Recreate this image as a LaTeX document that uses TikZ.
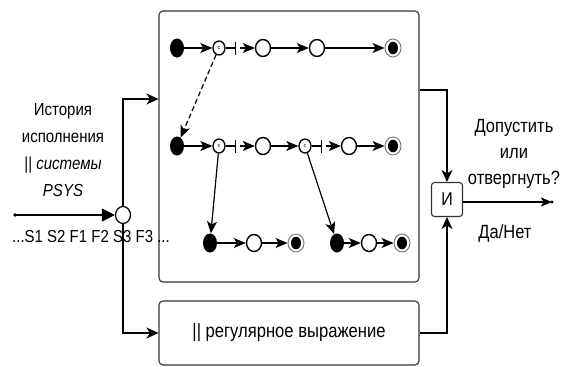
\documentclass[tikz,border=0pt]{standalone}
\usepackage{fontspec}
\usepackage{graphicx}
\setmainfont{Liberation Sans}
\usetikzlibrary{arrows.meta,shapes.geometric,calc}

% slightly tall lettering
\newcommand\tall[1]{\scalebox{1}[1.16]{#1}}

\tikzset{
  conn/.style={line width=1.2pt, draw=black},
  big/.style={-{Stealth[length=12pt,width=11pt,inset=3.5pt]}},
  small/.style={-{Stealth[length=12pt,width=10pt,inset=3pt]}},
  initst/.style={ellipse, fill=black, inner sep=0pt, minimum width=14pt, minimum height=19pt},
  openst/.style={ellipse, draw=black, fill=white, line width=1.4pt, inner sep=0pt, minimum width=15pt, minimum height=17pt},
  finalst/.style={ellipse, draw=black!55, fill=white, line width=0.9pt, inner sep=0pt, minimum width=16pt, minimum height=18pt,
    path picture={\fill[black] (path picture bounding box.center) ellipse (5pt and 6.3pt);}},
  choice/.style={ellipse, draw=black, fill=white, line width=1.3pt, inner sep=0pt, minimum width=12pt, minimum height=14pt,
    font=\fontsize{5.5}{5.5}\selectfont},
  barred/.style={line width=1.2pt, -{Bar[width=13pt,line width=1.5pt]}},
  panel/.style={draw=black!80, line width=1.1pt, rounded corners=4pt, fill=white},
  txt/.style={font=\fontsize{15}{27}\selectfont, align=center, inner sep=0pt},
  rtxt/.style={font=\fontsize{16.5}{26}\selectfont, align=center, inner sep=0pt}
}

\begin{document}
\begin{tikzpicture}[x=1pt,y=-1pt]
\useasboundingbox (0,0) rectangle (571,367);

% panels
\node (main) [panel, minimum width=260pt, minimum height=271pt] at (289,146.5) {};
\node (re) [panel, minimum width=260pt, minimum height=64pt, font=\fontsize{16.6}{18}\selectfont] at (289,333) {\tall{|| регулярное выражение}};
\node (and) [panel, minimum width=31pt, minimum height=34pt, rounded corners=3pt, font=\fontsize{16}{18}\selectfont] at (447,199.5) {\tall{И}};

% input stream
\coordinate (start) at (15,215);
\node (split) [ellipse, draw=black, fill=white, line width=1.2pt, inner sep=0pt, minimum width=15pt, minimum height=17pt] at (123,215) {};
\fill (start) circle (1.8pt);
\draw[conn, -{Triangle[length=13pt,width=13pt]}] (start) -- (split);

\coordinate (h1) at (0,99);
\coordinate (h2) at (0,90);
\draw[conn, big] (split.north) |- (main.west |- h1);
\draw[conn, big] (split.south) |- (re.west);
\draw[conn, big] (main.east |- h2) -| (and.north);
\draw[conn, big] (re.east) -| (and.south);

\coordinate (out) at (552,202);
\draw[conn, -{Stealth[length=11pt,width=9pt,inset=2.5pt]}] (and.east |- out) -- (out);
\fill (out) circle (1.6pt);

% labels
\node (hist) [txt] at (63,150) {\tall{История}\\\tall{исполнения}\\\tall{|| \textit{системы}}\\\tall{\textit{PSYS}}};
\node (trace) [txt] at (91,237) {\tall{...S1 S2 F1 F2 S3 F3 ...}};
\node (ask) [rtxt] at (514,154) {\tall{Допустить}\\\tall{или}\\\tall{отвергнуть?}};
\node (yn) [rtxt] at (505,233) {\tall{Да/Нет}};

% row 1
\node (i1) [initst] at (177,48) {};
\node (c1) [choice] at (219,48) {c};
\node (o1) [openst] at (263,48) {};
\node (o2) [openst] at (317,48) {};
\node (f1) [finalst] at (393,48) {};
\coordinate (b1) at (236,48);
\coordinate (s1) at (240,48);

% row 2
\node (i2) [initst] at (177,146) {};
\node (c2) [choice] at (219,146) {c};
\node (o3) [openst] at (263,146) {};
\node (c3) [choice] at (305,146) {c};
\node (o4) [openst] at (349,146) {};
\node (f2) [finalst] at (393,146) {};
\coordinate (b2) at (236,146);
\coordinate (s2) at (240,146);
\coordinate (b3) at (322,146);
\coordinate (s3) at (326,146);

% row 3
\node (i3) [initst] at (210,243) {};
\node (o5) [openst] at (254,243) {};
\node (f3) [finalst] at (296,243) {};
\node (i4) [initst] at (337,243) {};
\node (o6) [openst] at (369,243) {};
\node (f4) [finalst] at (402,243) {};

% transitions
\draw[conn, small] (i1) -- (c1);
\draw[barred] (c1) -- (b1);
\draw[conn, small] (s1) -- (o1);
\draw[conn, small] (o1) -- (o2);
\draw[conn, small] (o2) -- (f1);
\draw[conn, small, dashed, dash pattern=on 5pt off 3pt] (c1) -- (i2);

\draw[conn, small] (i2) -- (c2);
\draw[barred] (c2) -- (b2);
\draw[conn, small] (s2) -- (o3);
\draw[conn, small] (o3) -- (c3);
\draw[barred] (c3) -- (b3);
\draw[conn, small] (s3) -- (o4);
\draw[conn, small] (o4) -- (f2);
\draw[conn, small] (c2) -- (i3);
\draw[conn, small] (c3) -- (i4);

\draw[conn, small] (i3) -- (o5);
\draw[conn, small] (o5) -- (f3);
\draw[conn, small] (i4) -- (o6);
\draw[conn, small] (o6) -- (f4);
\end{tikzpicture}
\end{document}
